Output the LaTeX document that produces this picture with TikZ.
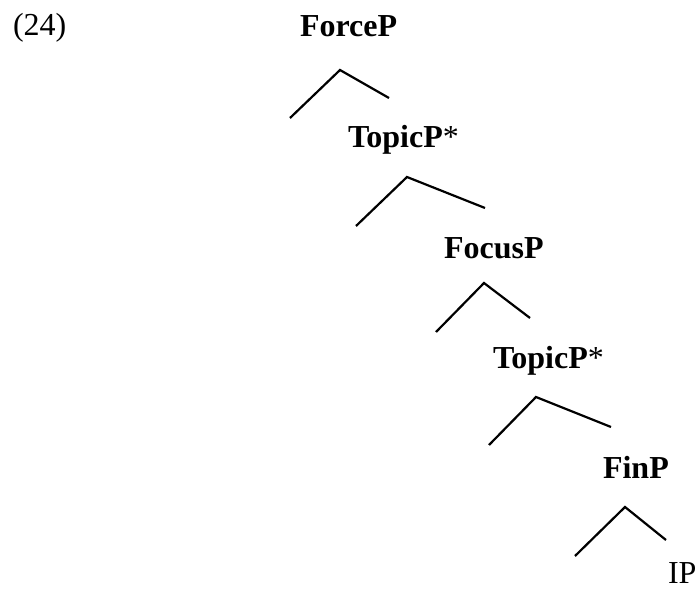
\documentclass[tikz,border=0pt]{standalone}
\usepackage{fontspec}
\setmainfont{Liberation Serif}
\begin{document}
\begin{tikzpicture}[x=1pt,y=-1pt,
  lbl/.style={anchor=base west,inner sep=0pt,outer sep=0pt,font=\fontsize{32}{38}\selectfont},
  branch/.style={line width=2.2pt,line cap=butt,line join=miter}]
\useasboundingbox (0,0) rectangle (700,591);
\node[lbl] (ex) at (13,36) {(24)};
\node[lbl] (force) at (300,37) {\textbf{ForceP}};
\node[lbl] (top1) at (348,147) {\textbf{TopicP}*};
\node[lbl] (focus) at (444,258) {\textbf{FocusP}};
\node[lbl] (top2) at (493,368) {\textbf{TopicP}*};
\node[lbl] (fin) at (603,478) {\textbf{FinP}};
\node[lbl] (ip) at (668,583) {IP};
% branches
\coordinate (a1) at (340,70); \coordinate (l1) at (290,118); \coordinate (r1) at (389,98);
\coordinate (a2) at (407,177); \coordinate (l2) at (356,226); \coordinate (r2) at (485,208);
\coordinate (a3) at (484,283); \coordinate (l3) at (436,332); \coordinate (r3) at (530,318);
\coordinate (a4) at (536,397); \coordinate (l4) at (489,445); \coordinate (r4) at (611,427);
\coordinate (a5) at (625,507); \coordinate (l5) at (575,556); \coordinate (r5) at (666,540);
\draw[branch] (l1) -- (a1) -- (r1);
\draw[branch] (l2) -- (a2) -- (r2);
\draw[branch] (l3) -- (a3) -- (r3);
\draw[branch] (l4) -- (a4) -- (r4);
\draw[branch] (l5) -- (a5) -- (r5);
\end{tikzpicture}
\end{document}
